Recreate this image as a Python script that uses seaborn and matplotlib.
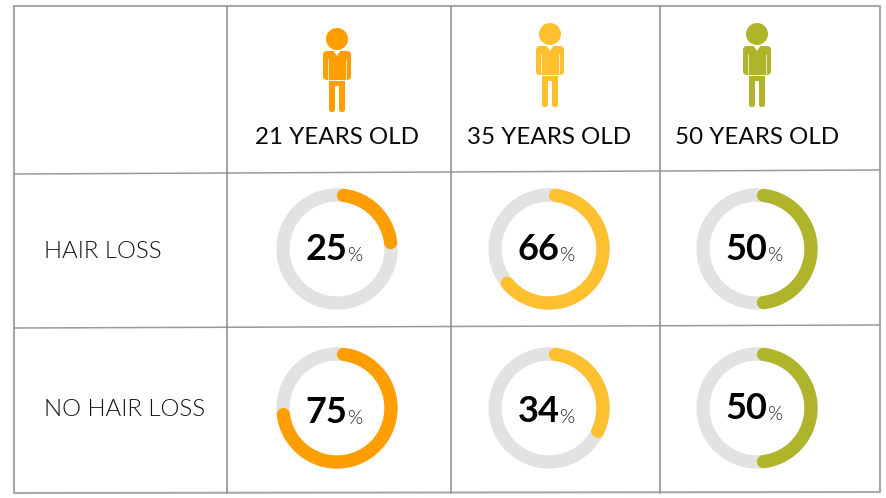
import numpy as np
import seaborn as sns
import matplotlib.pyplot as plt
from matplotlib.patches import Circle, FancyBboxPatch, Polygon

ages = ["21 YEARS OLD", "35 YEARS OLD", "50 YEARS OLD"]
row_labels = ["HAIR LOSS", "NO HAIR LOSS"]
hair_loss = [25, 66, 50]
no_hair_loss = [75, 34, 50]
colors = ["#FF9E00", "#FEC02F", "#AFB42B"]

W, H = 886, 498
col_x = [337, 549, 757]
row_y = [249, 408]
head_x = [337, 550, 757]
head_y = [39, 34, 34]
# the numbers do not sit at one height in the second row
base_y = [[260, 260, 260], [423, 422, 419]]

sns.set_theme(style="white")
plt.rcParams["font.family"] = ["Lato", "DejaVu Sans"]

fig = plt.figure(figsize=(W / 100, H / 100), dpi=100)
ax = fig.add_axes([0, 0, 1, 1])
ax.set_xlim(0, W)
ax.set_ylim(H, 0)
ax.axis("off")

# table lines, the picture is a bit crooked
grid = "#9a9a9a"
ax.plot([14, 880, 880, 14, 14], [6, 6, 492, 493, 6], color="#a8a8a8", lw=1.5)
ax.plot([14, 880], [174, 170], color=grid, lw=1.1)
ax.plot([14, 880], [328, 325], color=grid, lw=1.1)
for x in [227, 451, 660]:
    ax.plot([x, x], [6, 493], color="#888888", lw=1.1)


def rounded(x, y, w, h, rad, color):
    ax.add_patch(FancyBboxPatch((x, y), w, h, boxstyle=f"round,pad=0,rounding_size={rad}", fc=color, ec="none"))


def person(cx, y0, color):
    ax.add_patch(Circle((cx, y0), 11, color=color, lw=0))
    rounded(cx - 14, y0 + 12, 28, 29, 4, color)
    # neck cut and the thin white seams
    ax.add_patch(Polygon([(cx - 4, y0 + 11), (cx + 4, y0 + 11), (cx, y0 + 17)], fc="white", ec="none"))
    ax.plot([cx - 8.7, cx - 8.7], [y0 + 20, y0 + 42], color="white", lw=0.5)
    ax.plot([cx + 8.7, cx + 8.7], [y0 + 20, y0 + 42], color="white", lw=0.5)
    # legs
    ax.add_patch(plt.Rectangle((cx - 8, y0 + 41.5), 16, 5, fc=color, ec="none"))
    rounded(cx - 8, y0 + 43, 6, 30, 2.5, color)
    rounded(cx + 2, y0 + 43, 6, 30, 2.5, color)


def donut(cx, cy, value, color, base):
    size = 140
    pax = fig.add_axes([(cx - size / 2) / W, 1 - (cy + size / 2) / H, size / W, size / H], projection="polar")
    pax.set_theta_zero_location("N")
    pax.set_theta_direction(-1)
    r = 54.0
    cap = 6.5 / r  # round caps stay inside the arc's share
    theta = np.linspace(0, 2 * np.pi, 200)
    sns.lineplot(x=theta, y=np.full(200, r), ax=pax, color="#E2E2E2", linewidth=9.5, sort=False, estimator=None)
    theta = np.linspace(cap, 2 * np.pi * value / 100 - cap, 200)
    sns.lineplot(x=theta, y=np.full(200, r), ax=pax, color=color, linewidth=9.5, sort=False, estimator=None, solid_capstyle="round")
    pax.set_ylim(0, 70)
    pax.axis("off")
    pax.patch.set_alpha(0)
    ax.text(cx + 10.5, base, str(value), ha="right", va="baseline", fontsize=26, fontweight="bold", color="black")
    ax.text(cx + 11.5, base + 1, "%", ha="left", va="baseline", fontsize=14, fontweight=300, color="#222222")


for i, age in enumerate(ages):
    person(head_x[i], head_y[i], colors[i])
    ax.text(col_x[i], 144, age, ha="center", va="baseline", fontsize=17.4, color="#0a0a0a")
    donut(col_x[i], row_y[0], hair_loss[i], colors[i], base_y[0][i])
    donut(col_x[i], row_y[1], no_hair_loss[i], colors[i], base_y[1][i])

ax.text(44, 258, row_labels[0], ha="left", va="baseline", fontsize=17.3, fontweight=300, color="#111111")
ax.text(44, 416, row_labels[1], ha="left", va="baseline", fontsize=17.3, fontweight=300, color="#111111")

fig.savefig("out.png", dpi=100)
